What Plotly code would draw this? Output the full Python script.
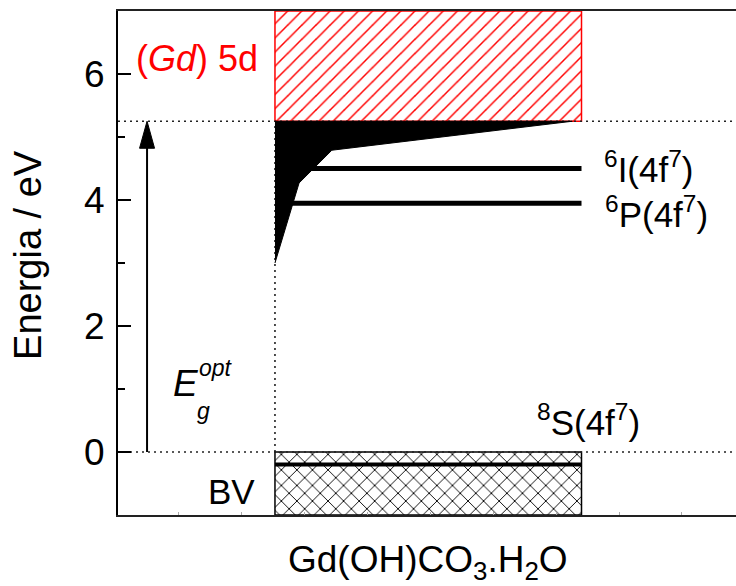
import plotly.graph_objects as go

# Energy levels (eV)
band_gap = 5.25          # optical gap, bottom of the Gd 5d band
cb_top = 7.0             # top of the 5d band (axis limit)
vb_top = 0.0             # top of the valence band
vb_bottom = -1.0
level_6I = 4.5
level_6P = 3.95
level_8S = -0.2

# Horizontal extent of the material column (arbitrary units)
col_left = 2.54
col_right = 7.50

# Band-tail (defect states) polygon below the conduction band
tail_x = [2.54, 7.35, 3.46, 2.93, 2.54]
tail_y = [5.25, 5.25, 4.79, 4.27, 3.00]

# Axis settings
x_range = [0, 10]
y_range = [-1, 7]
y_ticks = [0, 2, 4, 6]

arrow_x = 0.47

FONT = "Liberation Sans, Arial, Helvetica, sans-serif"

fig = go.Figure()

# Gd 5d conduction band (red hatched)
fig.add_trace(go.Scatter(
    x=[col_left, col_right, col_right, col_left, col_left],
    y=[band_gap, band_gap, cb_top, cb_top, band_gap],
    mode="lines", fill="toself",
    line=dict(color="red", width=1.5),
    fillcolor="white",
    fillpattern=dict(shape="/", fgcolor="red", fgopacity=1, bgcolor="white",
                     size=10, solidity=0.15),
    hoverinfo="skip", showlegend=False,
))

# Valence band (cross hatched)
fig.add_trace(go.Scatter(
    x=[col_left, col_right, col_right, col_left, col_left],
    y=[vb_bottom, vb_bottom, vb_top, vb_top, vb_bottom],
    mode="lines", fill="toself",
    line=dict(color="black", width=1.5),
    fillcolor="white",
    fillpattern=dict(shape="x", fgcolor="black", fgopacity=1, bgcolor="white",
                     size=11, solidity=0.16),
    hoverinfo="skip", showlegend=False,
))

# Dotted guide lines
dot = dict(color="#222222", width=1.6, dash="2px,4px")
fig.add_trace(go.Scatter(x=[x_range[0], x_range[1]], y=[band_gap, band_gap], mode="lines",
                         line=dot, hoverinfo="skip", showlegend=False))
fig.add_trace(go.Scatter(x=[x_range[0], x_range[1]], y=[vb_top, vb_top], mode="lines",
                         line=dot, hoverinfo="skip", showlegend=False))
fig.add_trace(go.Scatter(x=[col_left, col_left], y=[vb_top, band_gap], mode="lines",
                         line=dot, hoverinfo="skip", showlegend=False))

# Band tail
fig.add_trace(go.Scatter(
    x=tail_x, y=tail_y, mode="lines", fill="toself",
    line=dict(color="black", width=1), fillcolor="black",
    hoverinfo="skip", showlegend=False,
))

# 4f7 levels
for lvl, w in [(level_6I, 5), (level_6P, 5), (level_8S, 4)]:
    fig.add_trace(go.Scatter(
        x=[col_left, col_right], y=[lvl, lvl], mode="lines",
        line=dict(color="black", width=w), hoverinfo="skip", showlegend=False,
    ))

# Gap arrow: shaft plus triangular head
px_per_x = 618 / (x_range[1] - x_range[0])
px_per_y = 504 / (y_range[1] - y_range[0])
head_half_w = 7.5 / px_per_x
head_len = 27 / px_per_y
fig.add_trace(go.Scatter(
    x=[arrow_x, arrow_x], y=[vb_top, band_gap - head_len * 0.9], mode="lines",
    line=dict(color="black", width=2), hoverinfo="skip", showlegend=False,
))
fig.add_trace(go.Scatter(
    x=[arrow_x - head_half_w, arrow_x, arrow_x + head_half_w, arrow_x - head_half_w],
    y=[band_gap - head_len, band_gap, band_gap - head_len, band_gap - head_len],
    mode="lines", fill="toself", line=dict(color="black", width=1), fillcolor="black",
    hoverinfo="skip", showlegend=False,
))

def label(text, x, y, size, color="black", **kw):
    fig.add_annotation(text=text, x=x, y=y, xref="x", yref="y", showarrow=False,
                       font=dict(family=FONT, size=size, color=color),
                       xanchor="center", yanchor="middle", **kw)

label("(<i>Gd</i>) 5d", 1.28, 6.25, 36, color="red")
label("<sup>6</sup>I(4f<sup>7</sup>)", 8.60, 4.52, 35)
label("<sup>6</sup>P(4f<sup>7</sup>)", 8.71, 3.81, 35)
label("<sup>8</sup>S(4f<sup>7</sup>)", 7.61, 0.51, 35)
label("BV", 1.84, -0.63, 35)
label("<i>E</i>", 1.10, 1.08, 37)
label("<i>opt</i>", 1.58, 1.33, 23)
label("<i>g</i>", 1.38, 0.65, 23)

# Axis titles
fig.add_annotation(text="Energia / eV", x=-0.1456, y=0.516, xref="paper", yref="paper",
                   textangle=-90, showarrow=False, xanchor="center", yanchor="middle",
                   font=dict(family=FONT, size=38, color="black"))
fig.add_annotation(text="Gd(OH)CO<sub>3</sub>.H<sub>2</sub>O", x=0.502, y=-0.093,
                   xref="paper", yref="paper", showarrow=False,
                   xanchor="center", yanchor="middle",
                   font=dict(family=FONT, size=37, color="black"))

fig.update_layout(
    width=736, height=586,
    margin=dict(l=118, r=0, t=11, b=71),
    paper_bgcolor="white", plot_bgcolor="white",
    font=dict(family=FONT, color="black"),
    xaxis=dict(range=x_range, showgrid=False, zeroline=False,
               showline=True, linecolor="#222", linewidth=2, mirror=True,
               ticks="inside", ticklen=3, tickcolor="#aaa", tickwidth=1,
               tick0=0.974, dtick=1.019, showticklabels=False),
    yaxis=dict(range=y_range, showgrid=False, zeroline=False,
               showline=True, linecolor="black", linewidth=2,
               ticks="inside", ticklen=13, tickwidth=1.5, tickcolor="black",
               tickvals=y_ticks, tickfont=dict(family=FONT, size=37, color="black"),
               ticklabelstandoff=4,
               minor=dict(ticks="inside", ticklen=7, dtick=1, tickcolor="black", tickwidth=1.5)),
)

fig.write_html("out.html")
